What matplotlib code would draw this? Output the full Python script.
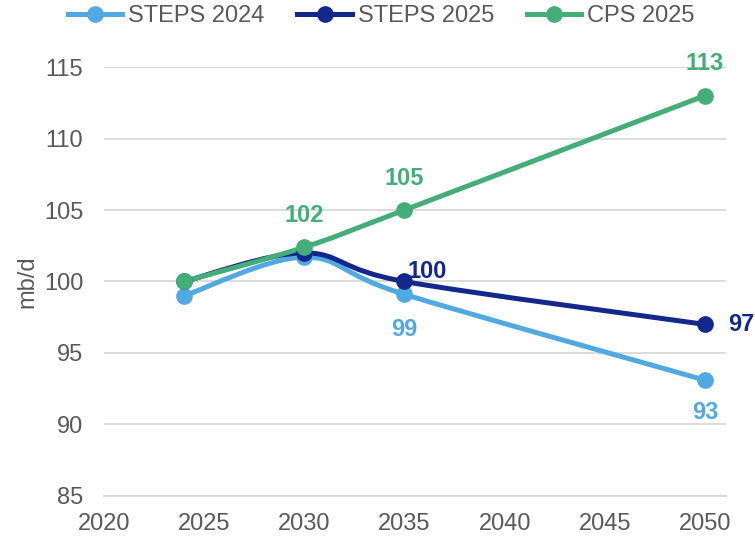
import numpy as np
import matplotlib.pyplot as plt
from matplotlib.path import Path
from matplotlib.patches import PathPatch

plt.rcParams['font.family'] = ['Liberation Sans', 'DejaVu Sans']

# oil demand outlook, mb/d
years = [2024, 2030, 2035, 2050]
steps_2024 = [99.0, 101.7, 99.1, 93.1]
steps_2025 = [100.0, 102.0, 100.0, 97.0]
cps_2025 = [100.0, 102.4, 105.0, 113.0]

names = ['STEPS 2024', 'STEPS 2025', 'CPS 2025']
colours = ['#52A9E1', '#14288C', '#45AD78']

# labelled points: (series index, year index, text, offset in points)
labels = [
    (0, 2, '99', (0, -25)),
    (0, 3, '93', (0, -23)),
    (1, 2, '100', (16, 7)),
    (1, 3, '97', (26, 0)),
    (2, 1, '102', (0, 23)),
    (2, 2, '105', (0, 23)),
    (2, 3, '113', (0, 23)),
]

grey = '#595959'


def smooth_path(x, y):
    """Bezier path through the points, Catmull-Rom style control points"""
    pts = np.column_stack([x, y]).astype(float)
    verts = [pts[0]]
    codes = [Path.MOVETO]
    n = len(pts)
    for i in range(n - 1):
        p_prev = pts[i - 1] if i > 0 else pts[i]
        p_next2 = pts[i + 2] if i + 2 < n else pts[i + 1]
        c1 = pts[i] + (pts[i + 1] - p_prev) / 6
        c2 = pts[i + 1] - (p_next2 - pts[i]) / 6
        verts += [c1, c2, pts[i + 1]]
        codes += [Path.CURVE4] * 3
    return Path(verts, codes)


fig = plt.figure(figsize=(7.55, 5.37), dpi=100)
ax = fig.add_axes([0.1377, 0.0764, 0.8239, 0.7988])

series = [steps_2024, steps_2025, cps_2025]
for vals, colour, name in zip(series, colours, names):
    patch = PathPatch(smooth_path(years, vals), facecolor='none', edgecolor=colour,
                      lw=3.6, capstyle='round', joinstyle='round', zorder=3)
    ax.add_patch(patch)
    ax.plot(years, vals, 'o', color=colour, ms=11, zorder=4)
    # legend proxy
    ax.plot([], [], '-o', color=colour, lw=3.6, ms=11, label=name)

for s, i, txt, off in labels:
    ax.annotate(txt, (years[i], series[s][i]), xytext=off, textcoords='offset points',
                ha='center', va='center', fontsize=17, fontweight='bold', color=colours[s],
                annotation_clip=False)

ax.set_xlim(2020, 2051.05)
ax.set_ylim(85, 115)
ax.set_xticks(range(2020, 2051, 5))
ax.set_yticks(range(85, 116, 5))
ax.tick_params(length=0, labelsize=17, labelcolor=grey)
ax.tick_params(axis='y', pad=15)
ax.tick_params(axis='x', pad=12)
ax.grid(axis='y', color='#d9d9d9', lw=1.3)
ax.set_axisbelow(True)
for side in ['top', 'right', 'left']:
    ax.spines[side].set_visible(False)
ax.spines['bottom'].set_color('#cdd6f2')
ax.spines['bottom'].set_linewidth(1.3)
ax.set_ylabel('mb/d', fontsize=17, color=grey, labelpad=4)

fig.legend(loc='upper center', bbox_to_anchor=(0.505, 1.03), ncol=3, frameon=False,
           fontsize=17, labelcolor=grey, handlelength=2.3, handletextpad=0.25,
           columnspacing=1.4)

fig.savefig('out.png', dpi=100)
